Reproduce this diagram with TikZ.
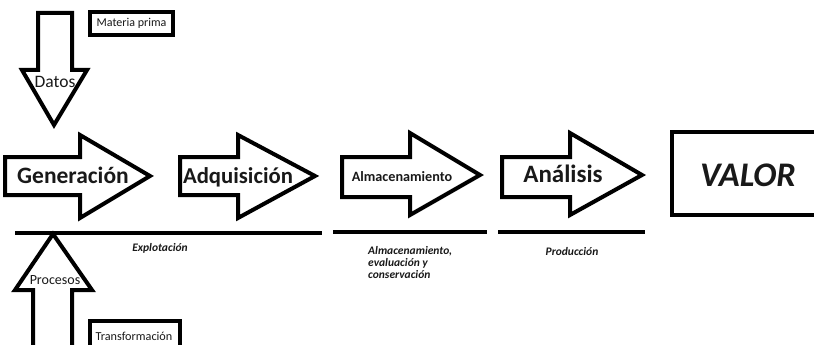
\documentclass[tikz,border=0pt]{standalone}
\usepackage{fontspec}
\setmainfont{Carlito}
\begin{document}
\begin{tikzpicture}[x=1pt,y=-1pt,
  blk/.style={draw=black,line width=4pt,fill=white,line join=miter},
  bar/.style={draw=black,line width=4pt},
  lbox/.style={draw=black,line width=3.5pt,fill=white,inner sep=0pt},
  txt/.style={inner sep=0pt,text=black!90},
  note/.style={inner sep=0pt,text=black!90,font=\fontsize{11.5}{12}\selectfont\bfseries\itshape}]
\useasboundingbox (0,0) rectangle (814,345);
\clip (0,0) rectangle (814,345);
% down arrow (Datos)
\draw[blk] (38,13) -- (72,13) -- (72,70) -- (87,70) -- (54,125) -- (22,70) -- (38,70) -- cycle;
\node[txt,anchor=base,font=\fontsize{17.5}{20}\selectfont] (datos) at (55,88) {Datos};
% Materia prima box
\node[lbox,minimum width=83pt,minimum height=23pt] (mp) at (131.5,23.5) {};
\node[txt,font=\fontsize{12}{14}\selectfont] (mpt) at (mp.center) {Materia prima};
% right block arrows
\draw[blk] (5,157) -- (80,157) -- (80,135) -- (150,176) -- (80,218) -- (80,195) -- (5,195) -- cycle;
\node[txt,anchor=base,font=\fontsize{23.5}{27}\selectfont\bfseries] (gen) at (73,183) {Generación};
\draw[blk] (180,157) -- (238,157) -- (238,135) -- (315,176) -- (238,218) -- (238,195) -- (180,195) -- cycle;
\node[txt,anchor=base,font=\fontsize{22.7}{27}\selectfont\bfseries] (adq) at (238,183) {Adquisición};
\draw[blk] (342,157) -- (410,157) -- (410,133) -- (480,175) -- (410,215) -- (410,197) -- (342,197) -- cycle;
\node[txt,anchor=base,font=\fontsize{14.2}{17}\selectfont\bfseries] (alm) at (402,181) {Almacenamiento};
\draw[blk] (502,157) -- (570,157) -- (570,133) -- (642,175) -- (570,215) -- (570,197) -- (502,197) -- cycle;
\node[txt,anchor=base,font=\fontsize{25}{29}\selectfont\bfseries] (ana) at (563,182) {Análisis};
% VALOR box
\node[draw=black,line width=4pt,fill=white,minimum width=150pt,minimum height=83pt,inner sep=0pt] (valbox) at (747,173.5) {};
\node[txt,anchor=base,font=\fontsize{34.5}{38}\selectfont\bfseries\itshape] (valor) at (748,186) {VALOR};
% bars
\coordinate (l1a) at (15,233); \coordinate (l1b) at (322,233);
\coordinate (l2a) at (333,232); \coordinate (l2b) at (487,232);
\coordinate (l3a) at (498,232); \coordinate (l3b) at (645,232);
\draw[bar] (l1a) -- (l1b);
\draw[bar] (l2a) -- (l2b);
\draw[bar] (l3a) -- (l3b);
% notes
\node[note] (expl) at (160,248) {Explotación};
\node[note,align=left,anchor=north west] (almn) at (368,246) {Almacenamiento,\\evaluación y\\conservación};
\node[note] (prod) at (572,252) {Producción};
% up arrow (Procesos)
\draw[blk] (33,350) -- (33,290) -- (15,290) -- (53,234) -- (92,290) -- (72,290) -- (72,350);
\node[txt,anchor=base,font=\fontsize{14}{17}\selectfont] (proc) at (55,284) {Procesos};
% Transformación box
\node[lbox,minimum width=90pt,minimum height=32pt] (tr) at (135,337) {};
\node[txt,font=\fontsize{12.2}{14}\selectfont] (trt) at (134,336) {Transformación};
\end{tikzpicture}
\end{document}
